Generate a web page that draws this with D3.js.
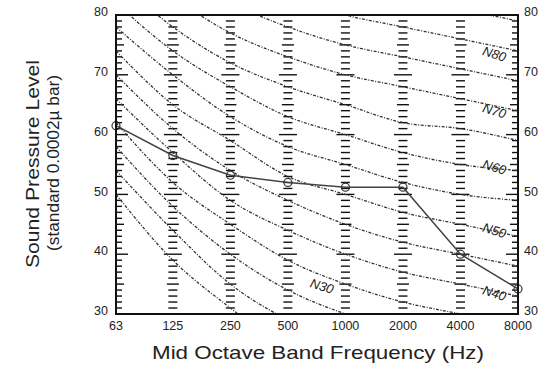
<!DOCTYPE html>
<html><head><meta charset="utf-8">
<script src="https://cdn.jsdelivr.net/npm/d3@7"></script>
<style>body{margin:0;background:#fff}svg{display:block}</style>
</head><body>
<div id="chart"></div>
<script>
const freqs = [63,125,250,500,1000,2000,4000,8000];
const freqLabels = ["63","125","250","500","1000","2000","4000","8000"];
const yTicks = [30,40,50,60,70,80];
// NR curves (dB at each band)
const curveNames = ["N20","N25","N30","N35","N40","N45","N50","N55","N60","N65","N70","N75","N80","N85"];
const N20 = [50,39,31,24,20,17,14,13];
const N25 = [54,44,35,29,25,22,20,18];
const N30 = [58,48,40,34,30,27,25,23];
const N35 = [62,52,45,39,35,32,30,28];
const N40 = [66,57,49,44,40,37,35,33];
const N45 = [70,61,54,49,45,42,40,38];
const N50 = [74,65,59,53,50,47,45,43];
const N55 = [78,70,63,58,55,52,50,49];
const N60 = [82,74,68,63,60,57,55,54];
const N65 = [86,78,72,68,65,62,61,59];
const N70 = [90,83,77,73,70,68,66,64];
const N75 = [94,87,82,78,75,73,71,69];
const N80 = [98,91,86,83,80,78,76,74];
const N85 = [102,96,91,88,85,83,81,79];
const curves = [N20,N25,N30,N35,N40,N45,N50,N55,N60,N65,N70,N75,N80,N85];
// measured spectrum
const measured = [61.5,56.5,53.2,52,51.2,51.2,40,34.2];
const curveLabels = ["N30","N40","N50","N60","N70","N80"];
const labelFreq = [750,6000,6000,6000,6000,6000];
const labelLevel = [34.5,33.3,43.8,54.4,63.8,73.3];

const W=542,H=369;
const m={l:116,r:24,t:15,b:55};
const svg=d3.select("#chart").append("svg").attr("width",W).attr("height",H);
const x=d3.scaleLog().base(2).domain([63,8000]).range([m.l,W-m.r]);
const y=d3.scaleLinear().domain([30,80]).range([H-m.b,m.t]);
const font="Liberation Sans, Arial, Helvetica, sans-serif";

svg.append("defs").append("clipPath").attr("id","clip")
  .append("rect").attr("x",m.l).attr("y",m.t).attr("width",x(8000)-m.l).attr("height",y(30)-m.t);

// vertical dash columns
const levels=d3.range(31,80);
freqs.slice(1,-1).forEach(f=>{
  svg.append("g").selectAll("line").data(levels).join("line")
    .attr("x1",d=>x(f)-(d%10===0?9:d%5===0?6:4.5))
    .attr("x2",d=>x(f)+(d%10===0?9:d%5===0?6:4.5))
    .attr("y1",d=>y(d)).attr("y2",d=>y(d))
    .attr("stroke","#111").attr("stroke-width",1.4);
});

// left/right axis inner ticks
[[m.l,1],[x(8000),-1]].forEach(([x0,dir])=>{
  svg.append("g").selectAll("line").data(levels).join("line")
    .attr("x1",x0).attr("x2",d=>x0+dir*(d%10===0?12:d%5===0?8:6))
    .attr("y1",d=>y(d)).attr("y2",d=>y(d))
    .attr("stroke","#111").attr("stroke-width",1.4);
});

// NR curves
const line=d3.line().x((d,i)=>x(freqs[i])).y(d=>y(d)).curve(d3.curveMonotoneX);
svg.append("g").attr("clip-path","url(#clip)").selectAll("path").data(curves).join("path")
  .attr("d",line).attr("fill","none").attr("stroke","#333").attr("stroke-width",1.3)
  .attr("stroke-dasharray","3,1.5,1,1.5");

// curve labels
svg.append("g").selectAll("text").data(curveLabels).join("text")
  .attr("transform",(d,i)=>`translate(${x(labelFreq[i])},${y(labelLevel[i])}) rotate(17)`)
  .attr("text-anchor","middle").attr("dominant-baseline","middle")
  .attr("font-family",font).attr("font-style","italic").attr("font-size",13).attr("fill","#222")
  .text(d=>d);

// measured line
const mline=d3.line().x((d,i)=>x(freqs[i])).y(d=>y(d));
svg.append("path").datum(measured).attr("d",mline).attr("fill","none")
  .attr("stroke","#444").attr("stroke-width",1.6);
svg.append("g").selectAll("circle").data(measured).join("circle")
  .attr("cx",(d,i)=>x(freqs[i])).attr("cy",d=>y(d)).attr("r",4)
  .attr("fill","none").attr("stroke","#333").attr("stroke-width",1.2);

// frame
svg.append("rect").attr("x",m.l).attr("y",m.t).attr("width",x(8000)-m.l).attr("height",y(30)-m.t)
  .attr("fill","none").attr("stroke","#111").attr("stroke-width",2);

// tick labels
svg.append("g").selectAll("text").data(freqs).join("text")
  .attr("x",d=>x(d)).attr("y",y(30)+16).attr("text-anchor","middle")
  .attr("font-family",font).attr("font-size",12.5).attr("fill","#222")
  .text((d,i)=>freqLabels[i]);
svg.append("g").selectAll("text").data(yTicks).join("text")
  .attr("x",m.l-8).attr("y",d=>y(d)-2).attr("text-anchor","end").attr("dominant-baseline","middle")
  .attr("font-family",font).attr("font-size",12.5).attr("fill","#222").text(d=>d);
svg.append("g").selectAll("text").data(yTicks).join("text")
  .attr("x",x(8000)+6).attr("y",d=>y(d)-2).attr("text-anchor","start").attr("dominant-baseline","middle")
  .attr("font-family",font).attr("font-size",12.5).attr("fill","#222").text(d=>d);

// axis titles
svg.append("text").attr("x",318).attr("y",359).attr("text-anchor","middle")
  .attr("font-family",font).attr("font-size",19).attr("fill","#222")
  .attr("textLength",332).attr("lengthAdjust","spacingAndGlyphs")
  .text("Mid Octave Band Frequency (Hz)");
svg.append("text").attr("transform","translate(39,164) rotate(-90)").attr("text-anchor","middle")
  .attr("font-family",font).attr("font-size",19).attr("fill","#222")
  .attr("textLength",208).attr("lengthAdjust","spacingAndGlyphs")
  .text("Sound  Pressure Level");
svg.append("text").attr("transform","translate(59,163) rotate(-90)").attr("text-anchor","middle")
  .attr("font-family",font).attr("font-size",17).attr("fill","#222")
  .attr("textLength",176).attr("lengthAdjust","spacingAndGlyphs")
  .text("(standard 0.0002\u00b5 bar)");
</script>
</body></html>
